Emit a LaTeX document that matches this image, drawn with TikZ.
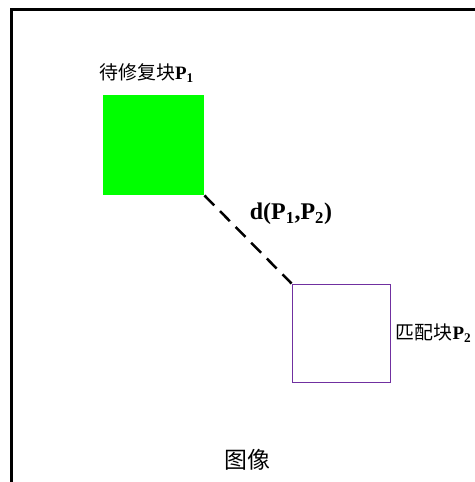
\documentclass[tikz,border=0pt]{standalone}
\usepackage{fontspec}
\setmainfont{Liberation Serif}
\newfontfamily\cjk{Noto Sans CJK SC}
\definecolor{pgreen}{HTML}{00FF00}
\definecolor{ppurple}{HTML}{7030A0}
\begin{document}
\begin{tikzpicture}[x=1bp,y=-1bp,
  frameline/.style={line width=3bp,black},
  blockbox/.style={minimum width=101bp,minimum height=100bp,inner sep=0pt,anchor=north west},
  lbl/.style={inner sep=0pt,font=\fontsize{19}{22}\selectfont}]
\useasboundingbox (0,0) rectangle (475,482);
\draw[frameline] (11.5,482) -- (11.5,9.5) -- (475,9.5);
\node[blockbox,fill=pgreen] (p1) at (103,95) {};
\node[blockbox,draw=ppurple,line width=1.8bp,minimum width=98bp,minimum height=98bp] (p2) at (291.5,283.5) {};
\draw[line width=2.5bp,dash pattern=on 14bp off 8.2bp] (p1.south east) -- (p2.north west);
\node[lbl] (l1) at (146.5,73) {{\cjk 待修复块}\textbf{P\textsubscript{1}}};
\node[lbl] (l2) at (433.5,333) {{\cjk 匹配块}\textbf{P\textsubscript{2}}};
\node[inner sep=0pt,font=\fontsize{24}{28}\selectfont\bfseries] (d) at (291,214) {d(P\textsubscript{1},P\textsubscript{2})};
\node[inner sep=0pt,font=\fontsize{23}{27}\selectfont\cjk] (img) at (247,460) {图像};
\end{tikzpicture}
\end{document}
